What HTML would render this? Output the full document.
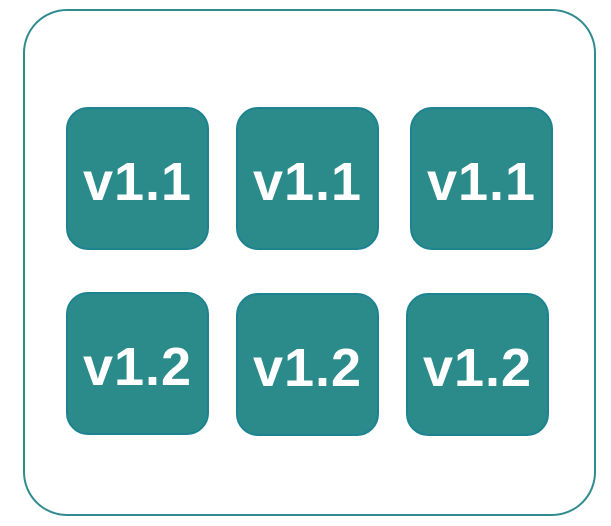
<!DOCTYPE html>
<html><head><meta charset="utf-8"><style>
body{margin:0;width:611px;height:526px;background:#fff;position:relative;overflow:hidden;font-family:"Liberation Sans","DejaVu Sans",sans-serif}
.outer{position:absolute;left:23px;top:9px;width:573px;height:507px;border:2.5px solid #2f8b8d;border-radius:44px;box-sizing:border-box}
.b{position:absolute;width:143px;height:143px;background:#2b8b8b;border:2px solid #1e8390;border-radius:22px;box-sizing:border-box;color:#fff;font-weight:bold;font-size:54px;display:flex;align-items:center;justify-content:center;letter-spacing:1px;padding-top:7px}
</style></head><body>
<div class="outer"></div>
<div class="b" style="left:66px;top:107px">v1.1</div>
<div class="b" style="left:236px;top:107px">v1.1</div>
<div class="b" style="left:410px;top:107px">v1.1</div>
<div class="b" style="left:66px;top:292px">v1.2</div>
<div class="b" style="left:236px;top:293px">v1.2</div>
<div class="b" style="left:406px;top:293px">v1.2</div>
</body></html>
